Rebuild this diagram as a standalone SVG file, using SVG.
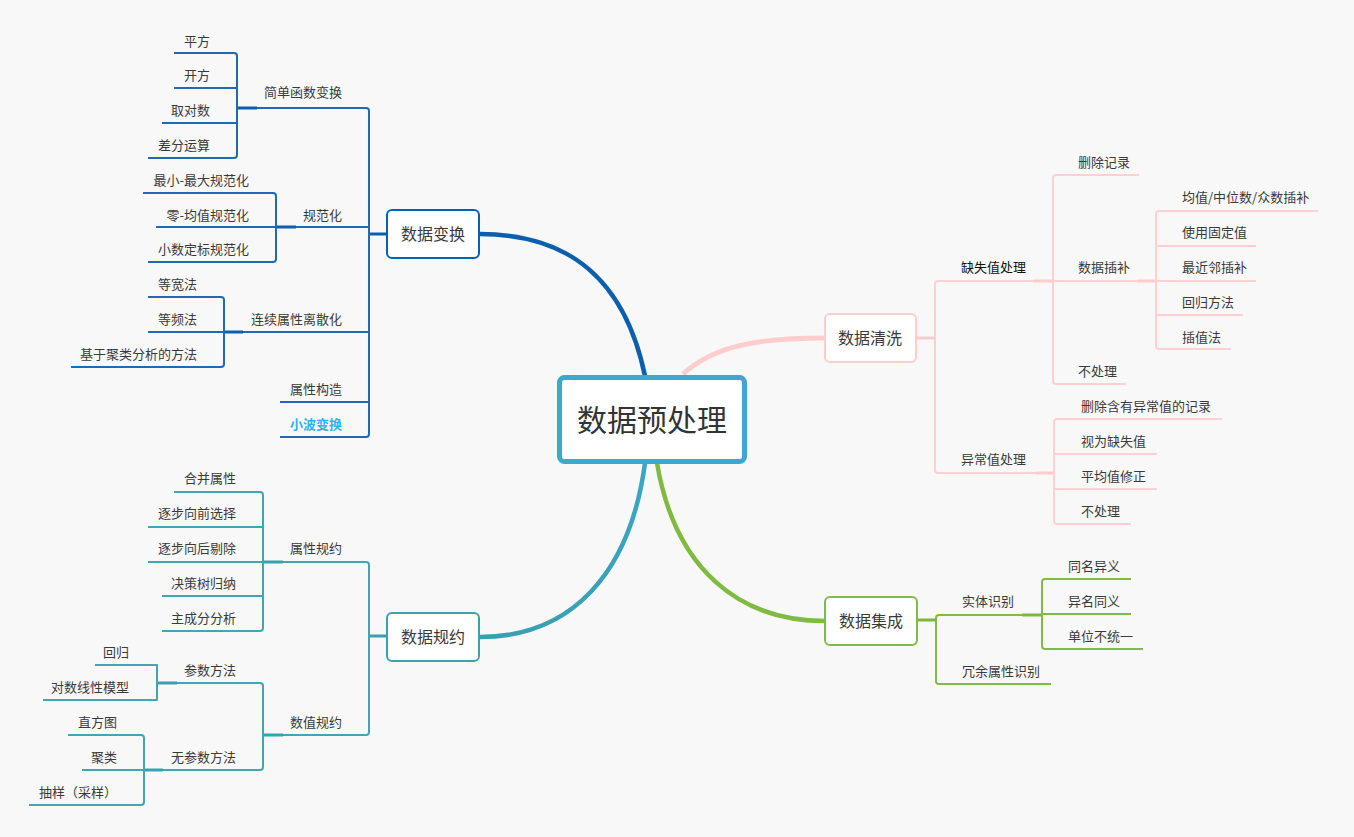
<svg xmlns="http://www.w3.org/2000/svg" width="1354" height="837" viewBox="0 0 1354 837">
<defs>
<style>
text{font-family:"Noto Sans CJK SC","Noto Sans",sans-serif;fill:#3a3a3a;font-size:13px;dominant-baseline:central}
.e{text-anchor:end}
.n{font-size:16px;text-anchor:middle}
.c{fill:none;stroke-linecap:butt;stroke-linejoin:round}
.b{stroke:#1f69b5;stroke-width:2}
.bt{stroke:#0b5fad;stroke-width:3}
.t{stroke:#43a5b4;stroke-width:2}
.tt{stroke:#3a9fae;stroke-width:3}
.p{stroke:#ffd0d0;stroke-width:2}
.pt{stroke:#ffcccc;stroke-width:3}
.g{stroke:#80bb44;stroke-width:2}
.gt{stroke:#7ab83e;stroke-width:3}
.box{fill:#fff;stroke-width:2}
</style>
<linearGradient id="tg" gradientUnits="userSpaceOnUse" x1="645" y1="463" x2="480" y2="637">
<stop offset="0" stop-color="#3aa6c2"/>
<stop offset="1" stop-color="#3a9fae"/>
</linearGradient>
</defs>
<rect width="1354" height="837" fill="#f8f8f8"/>

<g id="connectors" class="c">
<path d="M645 376 C625 280 570 234 480 234" stroke="#0b5fad" stroke-width="4.5" fill="none"/>
<path d="M683 374 C715 345 760 338 825 338" stroke="#ffcccc" stroke-width="5" fill="none"/>
<path d="M645 463 C630 575 570 637 480 637" stroke="url(#tg)" stroke-width="4.5" fill="none"/>
<path d="M657 463 C675 570 740 621 825 621" stroke="#7fba41" stroke-width="4.5" fill="none"/>

<path class="c bt" d="M369 234 H387"/>
<path class="c b" d="M257 108 H366 Q369 108 369 111 V434 Q369 437 366 437 H280"/>
<path class="c b" d="M296 227 H369 M243 332 H369 M280 402 H369"/>
<path class="c bt" d="M237 108 H257 M276 227 H296 M224 332 H243"/>
<path class="c b" d="M174 53 H234 Q237 53 237 56 V155 Q237 158 234 158 H148 M174 88 H237 M162 123 H237"/>
<path class="c b" d="M143 193 H273 Q276 193 276 196 V259 Q276 262 273 262 H148 M156 227 H276"/>
<path class="c b" d="M148 297 H221 Q224 297 224 300 V364 Q224 367 221 367 H71 M148 332 H224"/>

<path class="c tt" d="M369 636 H387"/>
<path class="c t" d="M283 562 H366 Q369 562 369 565 V732 Q369 735 366 735 H283"/>
<path class="c tt" d="M263 562 H283 M263 735 H283 M157 683 H177 M144 770 H163"/>
<path class="c t" d="M174 492 H260 Q263 492 263 495 V628 Q263 631 260 631 H162 M148 527 H263 M148 562 H263 M162 596 H263"/>
<path class="c t" d="M177 683 H260 Q263 683 263 686 V767 Q263 770 260 770 H163"/>
<path class="c t" d="M95 665 H157 V700 H43"/>
<path class="c t" d="M68 735 H141 Q144 735 144 738 V802 Q144 805 141 805 H29 M82 770 H144"/>

<path class="c pt" d="M916 338 H935"/>
<path class="c p" d="M1033 281 H938 Q935 281 935 284 V470 Q935 473 938 473 H1036"/>
<path class="c pt" d="M1033 281 H1053 M1137 281 H1156 M1036 473 H1054"/>
<path class="c p" d="M1139 175 H1056 Q1053 175 1053 178 V381 Q1053 384 1056 384 H1126 M1053 281 H1137"/>
<path class="c p" d="M1318 211 H1159 Q1156 211 1156 214 V346 Q1156 349 1159 349 H1231 M1156 246 H1256 M1156 281 H1256 M1156 315 H1243"/>
<path class="c p" d="M1222 419 H1057 Q1054 419 1054 422 V521 Q1054 524 1057 524 H1131 M1054 454 H1157 M1054 489 H1157"/>

<path class="c gt" d="M917 620 H936"/>
<path class="c g" d="M1022 615 H939 Q936 615 936 618 V681 Q936 684 939 684 H1051"/>
<path class="c gt" d="M1022 615 H1042"/>
<path class="c g" d="M1131 579 H1045 Q1042 579 1042 582 V646 Q1042 649 1045 649 H1143 M1042 614 H1131"/>
</g>

<g id="node-root">
<rect x="559.5" y="377.5" width="185" height="84" rx="5" fill="#fff" stroke="#3ca8d0" stroke-width="5"/>
<text x="652" y="418" style="font-size:30px;text-anchor:middle;fill:#333">数据预处理</text>
</g>

<g id="node-transform">
<rect class="box" x="387" y="210" width="92" height="48" rx="5" stroke="#0b5fad"/>
<text class="n" x="433" y="232.5">数据变换</text>
</g>
<g id="node-clean">
<rect class="box" x="825" y="314" width="91" height="48" rx="5" stroke="#ffcccc"/>
<text class="n" x="870" y="336.5">数据清洗</text>
</g>
<g id="node-integrate">
<rect class="box" x="825" y="597" width="92" height="48" rx="5" stroke="#80bb44"/>
<text class="n" x="871" y="619.5">数据集成</text>
</g>
<g id="node-reduce">
<rect class="box" x="387" y="613" width="92" height="48" rx="5" stroke="#3aa1b1"/>
<text class="n" x="433" y="635.5">数据规约</text>
</g>

<g id="labels-transform" transform="translate(0,-2)">
<text class="e" x="342" y="93">简单函数变换</text>
<text class="e" x="210" y="42">平方</text>
<text class="e" x="210" y="76">开方</text>
<text class="e" x="210" y="111">取对数</text>
<text class="e" x="210" y="146">差分运算</text>
<text class="e" x="342" y="216">规范化</text>
<text class="e" x="249" y="181">最小-最大规范化</text>
<text class="e" x="249" y="216">零-均值规范化</text>
<text class="e" x="249" y="250">小数定标规范化</text>
<text class="e" x="342" y="320">连续属性离散化</text>
<text class="e" x="197" y="285">等宽法</text>
<text class="e" x="197" y="320">等频法</text>
<text class="e" x="197" y="355">基于聚类分析的方法</text>
<text class="e" x="342" y="390">属性构造</text>
<text class="e" x="342" y="425" style="fill:#2fb0ee;font-weight:bold">小波变换</text>
</g>

<g id="labels-reduce" transform="translate(0,-2)">
<text class="e" x="342" y="549">属性规约</text>
<text class="e" x="236" y="479">合并属性</text>
<text class="e" x="236" y="514">逐步向前选择</text>
<text class="e" x="236" y="549">逐步向后剔除</text>
<text class="e" x="236" y="584">决策树归纳</text>
<text class="e" x="236" y="619">主成分分析</text>
<text class="e" x="342" y="723">数值规约</text>
<text class="e" x="236" y="671">参数方法</text>
<text class="e" x="129" y="653">回归</text>
<text class="e" x="129" y="688">对数线性模型</text>
<text class="e" x="236" y="758">无参数方法</text>
<text class="e" x="117" y="723">直方图</text>
<text class="e" x="117" y="758">聚类</text>
<text class="e" x="117" y="793">抽样（采样）</text>
</g>

<g id="labels-clean" transform="translate(0,-2)">
<text x="961" y="268" style="fill:#111">缺失值处理</text>
<text x="1078" y="163">删除记录</text>
<text x="1078" y="268">数据插补</text>
<text x="1078" y="372">不处理</text>
<text x="1182" y="198">均值/中位数/众数插补</text>
<text x="1182" y="233">使用固定值</text>
<text x="1182" y="268">最近邻插补</text>
<text x="1182" y="303">回归方法</text>
<text x="1182" y="338">插值法</text>
<text x="961" y="460">异常值处理</text>
<text x="1081" y="407">删除含有异常值的记录</text>
<text x="1081" y="442">视为缺失值</text>
<text x="1081" y="477">平均值修正</text>
<text x="1081" y="512">不处理</text>
</g>

<g id="labels-integrate" transform="translate(0,-2)">
<text x="962" y="602">实体识别</text>
<text x="962" y="672">冗余属性识别</text>
<text x="1068" y="567">同名异义</text>
<text x="1068" y="602">异名同义</text>
<text x="1068" y="637">单位不统一</text>
</g>
</svg>
